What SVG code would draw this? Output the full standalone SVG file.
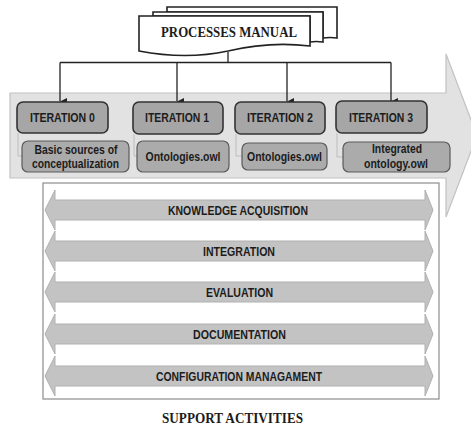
<svg xmlns="http://www.w3.org/2000/svg" width="471" height="428" viewBox="0 0 471 428">
  <defs>
    <marker id="arrowDown" markerWidth="8" markerHeight="8" refX="4" refY="7" orient="auto" markerUnits="userSpaceOnUse" viewBox="0 0 8 8">
      <path d="M0.5,0 L4,7 L7.5,0 Z" fill="#222"/>
    </marker>
    <style>
      .sans { font-family: "Liberation Sans", Arial, sans-serif; font-weight: bold; fill: #1c1c1c; }
      .serif { font-family: "Liberation Serif", "Times New Roman", serif; font-weight: bold; fill: #1c1c1c; }
      .doc { fill: #ffffff; stroke: #222; stroke-width: 1.6; }
      .iter { fill: #a6a6a6; stroke: #333; stroke-width: 1.6; }
      .prod { fill: #ababab; stroke: #5a5a5a; stroke-width: 1.2; }
      .band { fill: #c3c3c3; stroke: #b0b0b0; stroke-width: 1; }
      .link { fill: none; stroke: #222; stroke-width: 1.3; }
      .tie { fill: none; stroke: #bcbcbc; stroke-width: 1; }
    </style>
  </defs>

  <rect width="471" height="428" fill="#ffffff"/>

  <!-- main process arrow -->
  <g id="process-arrow">
    <path d="M10,93 H446 V54 L477,135.5 L446,217 V178 H10 Z" fill="#e2e2e2" stroke="#c2c2c2" stroke-width="1.2"/>
  </g>

  <!-- processes manual: stacked documents -->
  <g id="processes-manual">
    <path class="doc" d="M167,7 H337 V38 Q330,37 323,38 V12 H167 Z"/>
    <path class="doc" d="M153,12 H323 V42 Q316,41 310,42 V16 H153 Z"/>
    <path class="doc" d="M139,16 H310 V46 Q270,41 228,51 Q186,60 139,51 Z"/>
    <text class="serif" x="229" y="36.5" font-size="14" text-anchor="middle" textLength="136" lengthAdjust="spacingAndGlyphs">PROCESSES MANUAL</text>
  </g>

  <!-- connectors -->
  <g id="connectors">
    <path class="link" d="M228,52 V62.5"/>
    <path class="link" d="M60,62.5 H391"/>
    <path class="link" d="M60,62.5 V101.5" marker-end="url(#arrowDown)"/>
    <path class="link" d="M177,62.5 V101.5" marker-end="url(#arrowDown)"/>
    <path class="link" d="M287,62.5 V101.5" marker-end="url(#arrowDown)"/>
    <path class="link" d="M391,62.5 V101.5" marker-end="url(#arrowDown)"/>
    <path class="tie" d="M18,133 V156 H22"/>
    <path class="tie" d="M134,134 V156 H137"/>
    <path class="tie" d="M236,134 V156 H242"/>
    <path class="tie" d="M337,133 V157 H343"/>
  </g>

  <!-- iterations -->
  <g id="iteration-0">
    <rect class="iter" x="17" y="102" width="91" height="31" rx="6"/>
    <text class="sans" x="62.5" y="121.5" font-size="13" text-anchor="middle" textLength="65" lengthAdjust="spacingAndGlyphs">ITERATION 0</text>
  </g>
  <g id="iteration-1">
    <rect class="iter" x="133" y="102" width="90" height="32" rx="6"/>
    <text class="sans" x="177" y="122" font-size="13" text-anchor="middle" textLength="64" lengthAdjust="spacingAndGlyphs">ITERATION 1</text>
  </g>
  <g id="iteration-2">
    <rect class="iter" x="235" y="102" width="90" height="32" rx="6"/>
    <text class="sans" x="280" y="122" font-size="13" text-anchor="middle" textLength="66" lengthAdjust="spacingAndGlyphs">ITERATION 2</text>
  </g>
  <g id="iteration-3">
    <rect class="iter" x="336" y="101" width="91" height="32" rx="6"/>
    <text class="sans" x="381" y="121.5" font-size="13" text-anchor="middle" textLength="64" lengthAdjust="spacingAndGlyphs">ITERATION 3</text>
  </g>

  <!-- iteration outputs -->
  <g id="output-0">
    <rect class="prod" x="22" y="141" width="107" height="31" rx="6"/>
    <text class="sans" x="76" y="153.5" font-size="12" text-anchor="middle" textLength="83" lengthAdjust="spacingAndGlyphs">Basic sources of</text>
    <text class="sans" x="75.5" y="168" font-size="12" text-anchor="middle" textLength="87" lengthAdjust="spacingAndGlyphs">conceptualization</text>
  </g>
  <g id="output-1">
    <rect class="prod" x="137" y="141" width="92" height="31" rx="6"/>
    <text class="sans" x="183" y="161" font-size="12" text-anchor="middle" textLength="75" lengthAdjust="spacingAndGlyphs">Ontologies.owl</text>
  </g>
  <g id="output-2">
    <rect class="prod" x="242" y="143" width="85" height="27" rx="6"/>
    <text class="sans" x="284.5" y="161" font-size="12" text-anchor="middle" textLength="75" lengthAdjust="spacingAndGlyphs">Ontologies.owl</text>
  </g>
  <g id="output-3">
    <rect class="prod" x="343" y="142" width="107" height="30" rx="6"/>
    <text class="sans" x="397" y="153" font-size="12" text-anchor="middle" textLength="50" lengthAdjust="spacingAndGlyphs">Integrated</text>
    <text class="sans" x="396" y="168" font-size="12" text-anchor="middle" textLength="64" lengthAdjust="spacingAndGlyphs">ontology.owl</text>
  </g>

  <!-- support activities -->
  <g id="support-activities">
    <rect x="43" y="183" width="396" height="216" fill="#ffffff" stroke="#8c8c8c" stroke-width="1.2"/>
    <g id="knowledge-acquisition">
      <path class="band" d="M45,210 L55,190 V200 H425 V190 L433,210 L425,230 V220 H55 V230 Z"/>
      <text class="sans" x="238" y="214.5" font-size="12" text-anchor="middle" textLength="140" lengthAdjust="spacingAndGlyphs">KNOWLEDGE ACQUISITION</text>
    </g>
    <g id="integration">
      <path class="band" d="M45,251 L55,231 V241 H425 V231 L433,251 L425,271 V261 H55 V271 Z"/>
      <text class="sans" x="239" y="255.5" font-size="12" text-anchor="middle" textLength="72" lengthAdjust="spacingAndGlyphs">INTEGRATION</text>
    </g>
    <g id="evaluation">
      <path class="band" d="M45,292 L55,272 V282 H425 V272 L433,292 L425,312 V302 H55 V312 Z"/>
      <text class="sans" x="239.5" y="296.5" font-size="12" text-anchor="middle" textLength="67" lengthAdjust="spacingAndGlyphs">EVALUATION</text>
    </g>
    <g id="documentation">
      <path class="band" d="M45,334 L55,314 V324 H425 V314 L433,334 L425,354 V344 H55 V354 Z"/>
      <text class="sans" x="239.5" y="338.5" font-size="12" text-anchor="middle" textLength="93" lengthAdjust="spacingAndGlyphs">DOCUMENTATION</text>
    </g>
    <g id="configuration-management">
      <path class="band" d="M45,376 L55,356 V366 H425 V356 L433,376 L425,396 V386 H55 V396 Z"/>
      <text class="sans" x="239" y="380.5" font-size="12" text-anchor="middle" textLength="166" lengthAdjust="spacingAndGlyphs">CONFIGURATION MANAGAMENT</text>
    </g>
    <text class="serif" x="232.5" y="423" font-size="14" text-anchor="middle" textLength="141" lengthAdjust="spacingAndGlyphs">SUPPORT ACTIVITIES</text>
  </g>
</svg>
